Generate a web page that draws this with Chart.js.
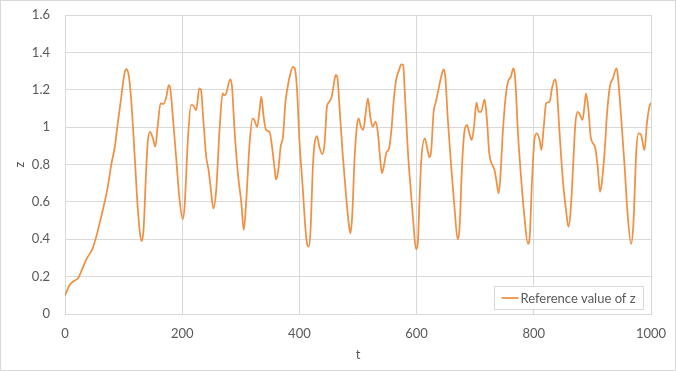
<!DOCTYPE html>
<html>
<head>
<meta charset="utf-8">
<style>
	html, body { margin: 0; padding: 0; background: #fff; }
	#z-chart-wrap { width: 676px; height: 371px; }
</style>
<script src="https://cdn.jsdelivr.net/npm/chart.js@4.4.0/dist/chart.umd.min.js"></script>
</head>
<body>
<div id="z-chart-wrap"><canvas id="z-chart" width="676" height="371"></canvas></div>
<script>
// time values
var tValues = [
	0, 8, 16, 22, 30, 36, 47, 53, 59, 67, 73, 79, 85, 90, 96, 101, 104, 108, 113, 119,
	124, 128, 131, 134, 138, 141, 145, 150, 154, 158, 163, 168, 173, 177, 180, 184, 190, 195, 201, 204,
	210, 215, 218, 224, 229, 232, 236, 241, 245, 249, 253, 258, 264, 269, 272, 275, 282, 285, 289, 295,
	301, 305, 309, 315, 320, 323, 328, 332, 335, 339, 343, 349, 354, 358, 360, 364, 368, 372, 376, 380,
	384, 389, 392, 396, 400, 406, 410, 413, 416, 419, 423, 426, 430, 434, 439, 443, 447, 451, 455, 459,
	462, 465, 469, 474, 480, 484, 487, 490, 494, 498, 501, 505, 509, 513, 517, 521, 525, 530, 534, 538,
	541, 545, 548, 553, 557, 561, 565, 570, 574, 577, 580, 585, 590, 595, 599, 602, 605, 608, 614, 617,
	622, 625, 629, 633, 637, 642, 646, 649, 653, 659, 665, 670, 673, 678, 682, 686, 690, 694, 698, 702,
	706, 710, 716, 720, 724, 728, 733, 736, 740, 743, 747, 752, 756, 761, 765, 768, 773, 779, 784, 790,
	793, 797, 801, 805, 810, 813, 817, 821, 827, 831, 836, 839, 844, 850, 855, 859, 863, 867, 871, 875,
	879, 883, 887, 889, 893, 897, 901, 905, 909, 913, 916, 921, 925, 930, 935, 941, 943, 949, 955, 960,
	966, 970, 975, 979, 983, 989, 993, 998, 1000
];

// reference value of z
var zValues = [
	0.10, 0.155, 0.178, 0.19, 0.245, 0.29, 0.35, 0.41, 0.485, 0.59, 0.68, 0.80, 0.895, 1.02, 1.16, 1.28, 1.31, 1.29, 1.145, 0.84,
	0.574, 0.43, 0.39, 0.45, 0.735, 0.913, 0.975, 0.94, 0.895, 1.00, 1.127, 1.124, 1.163, 1.225, 1.2, 1.055, 0.824, 0.628, 0.507, 0.574,
	0.949, 1.118, 1.118, 1.09, 1.207, 1.2, 1.04, 0.84, 0.77, 0.663, 0.565, 0.663, 1.00, 1.18, 1.17, 1.18, 1.256, 1.216, 1.00, 0.753,
	0.592, 0.449, 0.592, 0.913, 1.047, 1.038, 1.002, 1.09, 1.163, 1.055, 0.985, 0.975, 0.877, 0.77, 0.72, 0.77, 0.895, 0.949, 1.127, 1.216,
	1.279, 1.323, 1.315, 1.198, 0.931, 0.663, 0.467, 0.378, 0.36, 0.449, 0.788, 0.913, 0.952, 0.895, 0.856, 0.913, 1.109, 1.136, 1.163, 1.234,
	1.279, 1.261, 1.08, 0.85, 0.62, 0.49, 0.432, 0.52, 0.824, 1.002, 1.047, 1.002, 0.985, 1.074, 1.154, 1.055, 1.002, 1.029, 0.967, 0.824,
	0.753, 0.806, 0.86, 0.887, 0.985, 1.145, 1.252, 1.305, 1.336, 1.332, 1.18, 0.877, 0.663, 0.467, 0.346, 0.378, 0.61, 0.824, 0.94, 0.904,
	0.838, 0.877, 1.082, 1.136, 1.198, 1.27, 1.309, 1.27, 1.055, 0.788, 0.556, 0.40, 0.449, 0.824, 0.985, 1.011, 0.967, 0.931, 1.002, 1.131,
	1.082, 1.082, 1.149, 1.04, 0.86, 0.806, 0.77, 0.717, 0.646, 0.735, 0.967, 1.163, 1.243, 1.27, 1.315, 1.27, 0.967, 0.70, 0.52, 0.375,
	0.414, 0.717, 0.931, 0.967, 0.931, 0.877, 1.002, 1.127, 1.136, 1.207, 1.256, 1.216, 0.967, 0.70, 0.556, 0.467, 0.556, 0.788, 1.02, 1.082,
	1.065, 1.038, 1.127, 1.18, 1.10, 0.949, 0.913, 0.887, 0.788, 0.654, 0.70, 0.877, 1.074, 1.22, 1.261, 1.315, 1.288, 1.055, 0.788, 0.538,
	0.375, 0.485, 0.877, 0.967, 0.958, 0.877, 1.02, 1.118, 1.13
];

// axis ticks
var xTicks = [0, 200, 400, 600, 800, 1000];
var yTicks = [0, 0.2, 0.4, 0.6, 0.8, 1, 1.2, 1.4, 1.6];

var seriesLabel = 'Reference value of z';
var lineColor = '#F19043';
var textColor = '#595959';
var gridColor = '#d9d9d9';
var fontFamily = "'Lato', 'Open Sans', sans-serif";

/**
 * Legend box inside the plot, bottom right.
 */
var insideLegend = {
	id: 'insideLegend',
	afterDraw: function( chart ) {
		var ctx = chart.ctx;
		var area = chart.chartArea;

		ctx.save();
		ctx.font = '13px ' + fontFamily;

		var textWidth = ctx.measureText( seriesLabel ).width;
		var boxW = Math.round( textWidth + 34 );
		var boxH = 23;
		var boxX = Math.round( area.right - 8 - boxW ) + 0.5;
		var boxY = Math.round( area.bottom - 5 - boxH ) + 0.5;

		ctx.fillStyle = '#fff';
		ctx.fillRect( boxX, boxY, boxW, boxH );
		ctx.strokeStyle = gridColor;
		ctx.lineWidth = 1;
		ctx.strokeRect( boxX, boxY, boxW, boxH );

		// sample line
		var midY = boxY + boxH / 2;
		ctx.strokeStyle = lineColor;
		ctx.lineWidth = 1.75;
		ctx.beginPath();
		ctx.moveTo( boxX + 7, midY );
		ctx.lineTo( boxX + 24, midY );
		ctx.stroke();

		ctx.fillStyle = textColor;
		ctx.textBaseline = 'middle';
		ctx.textAlign = 'left';
		ctx.fillText( seriesLabel, boxX + 26, midY + 0.5 );

		// chart area border
		ctx.strokeStyle = gridColor;
		ctx.lineWidth = 1;
		ctx.strokeRect( 0.5, 0.5, chart.width - 1, chart.height - 1 );

		ctx.restore();
	}
};

/**
 * Build the chart.
 */
function buildChart() {
	var points = tValues.map( function( t, i ) {
		return { x: t, y: zValues[i] };
	} );

	var config = {
		type: 'line',
		data: {
			datasets: [ {
				label: seriesLabel,
				data: points,
				borderColor: lineColor,
				backgroundColor: lineColor,
				borderWidth: 1.75,
				pointRadius: 0,
				fill: false,
				cubicInterpolationMode: 'monotone'
			} ]
		},
		plugins: [ insideLegend ],
		options: {
			responsive: false,
			animation: false,
			devicePixelRatio: 1,
			layout: {
				padding: { left: 0, top: 15, right: 25, bottom: 0 }
			},
			plugins: {
				legend: { display: false },
				tooltip: { enabled: false }
			},
			scales: {
				x: {
					type: 'linear',
					min: 0,
					max: 1000,
					afterFit: function( scale ) {
						scale.height = 57;
						scale.paddingLeft = 0;
						scale.paddingRight = 0;
					},
					afterBuildTicks: function( scale ) {
						scale.ticks = xTicks.map( function( v ) { return { value: v }; } );
					},
					grid: { color: gridColor, drawTicks: false },
					border: { color: gridColor },
					ticks: {
						color: textColor,
						padding: 12,
						maxRotation: 0,
						font: { family: fontFamily, size: 13 },
						callback: function( v ) {
							return String( v );
						}
					},
					title: {
						display: true,
						text: 't',
						color: textColor,
						padding: { top: 0, bottom: 8 },
						font: { family: fontFamily, size: 13 }
					}
				},
				y: {
					min: 0,
					max: 1.6,
					afterFit: function( scale ) {
						scale.width = 65;
						scale.paddingTop = 0;
						scale.paddingBottom = 0;
					},
					afterBuildTicks: function( scale ) {
						scale.ticks = yTicks.map( function( v ) { return { value: v }; } );
					},
					grid: { color: gridColor, drawTicks: false },
					border: { color: gridColor },
					ticks: {
						color: textColor,
						padding: 15,
						font: { family: fontFamily, size: 13 },
						callback: function( v ) {
							return String( +v.toFixed( 1 ) );
						}
					},
					title: {
						display: true,
						text: 'z',
						color: textColor,
						padding: { top: 12, bottom: 0 },
						font: { family: fontFamily, size: 13 }
					}
				}
			}
		}
	};

	window.zChart = new Chart( document.getElementById( 'z-chart' ).getContext( '2d' ), config );
}

buildChart();
</script>
</body>
</html>
